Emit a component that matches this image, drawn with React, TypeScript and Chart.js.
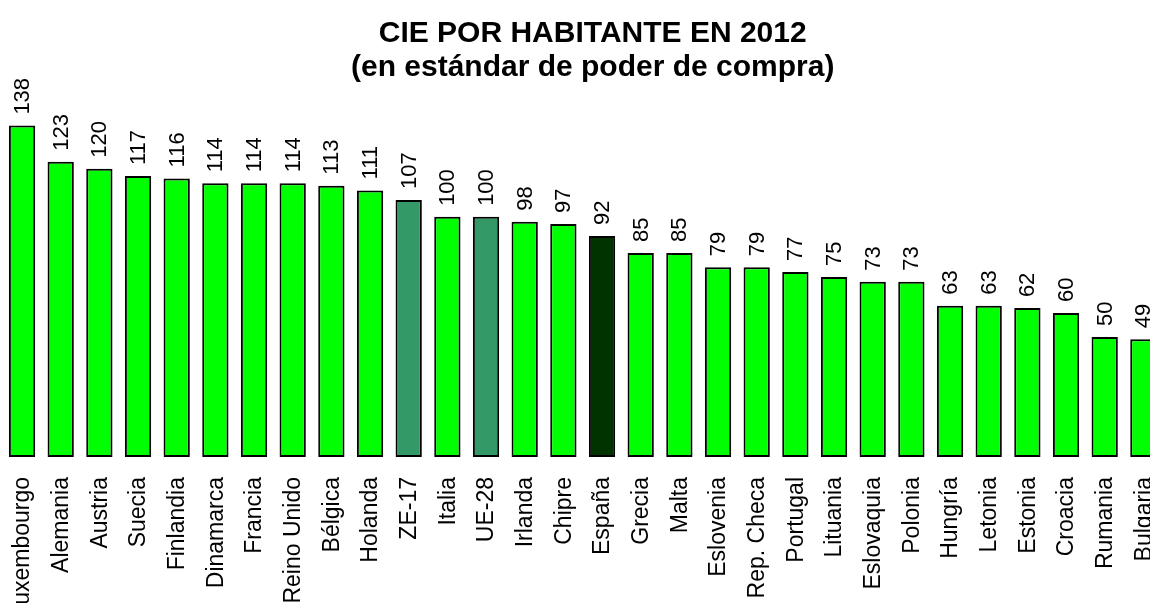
import React, { useEffect, useRef } from "react";
import { Chart, registerables } from "chart.js";

Chart.register(...registerables);

const categories = [
  "Luxembourgo", "Alemania", "Austria", "Suecia", "Finlandia", "Dinamarca", "Francia",
  "Reino Unido", "Bélgica", "Holanda", "ZE-17", "Italia", "UE-28", "Irlanda", "Chipre",
  "España", "Grecia", "Malta", "Eslovenia", "Rep. Checa", "Portugal", "Lituania",
  "Eslovaquia", "Polonia", "Hungría", "Letonia", "Estonia", "Croacia", "Rumania", "Bulgaria",
];

const values = [
  138, 123, 120, 117, 116, 114, 114, 114, 113, 111, 107, 100, 100, 98, 97,
  92, 85, 85, 79, 79, 77, 75, 73, 73, 63, 63, 62, 60, 50, 49,
];

const titleLines = ["CIE POR HABITANTE EN 2012", "(en estándar de poder de compra)"];

const GREEN = "#00FF00";
const AGG = "#339966";
const SPAIN = "#003300";

const barColors = categories.map((c) =>
  c === "España" ? SPAIN : c === "ZE-17" || c === "UE-28" ? AGG : GREEN
);

const FONT = "'Liberation Sans', Arial, Helvetica, sans-serif";

const valueLabels = {
  id: "valueLabels",
  afterDatasetsDraw(chart: any) {
    const ctx = chart.ctx;
    const meta = chart.getDatasetMeta(0);
    ctx.save();
    ctx.font = `22px ${FONT}`;
    ctx.fillStyle = "#000";
    ctx.textAlign = "left";
    ctx.textBaseline = "middle";
    meta.data.forEach((el: any, i: number) => {
      ctx.save();
      ctx.translate(el.x + 1, el.y - 11);
      ctx.rotate(-Math.PI / 2);
      ctx.fillText(String(values[i]), 0, 0);
      ctx.restore();
    });
    ctx.restore();
  },
};

const shiftTitle = {
  id: "shiftTitle",
  afterLayout(chart: any) {
    const t = chart.titleBlock;
    if (t) {
      t.left += 10;
      t.right += 10;
    }
  },
};

export default function App() {
  const ref = useRef<HTMLCanvasElement | null>(null);

  useEffect(() => {
    if (!ref.current) return;
    const chart = new Chart(ref.current, {
      type: "bar",
      data: {
        labels: categories,
        datasets: [
          {
            data: values,
            backgroundColor: barColors,
            borderColor: "#000",
            borderWidth: 2,
            borderSkipped: false,
            categoryPercentage: 1,
            barPercentage: 0.68,
          },
        ],
      },
      options: {
        responsive: false,
        animation: false,
        devicePixelRatio: 1,
        layout: { padding: { left: 2.7, right: 7.3, top: 0, bottom: 0 } },
        plugins: {
          legend: { display: false },
          tooltip: { enabled: false },
          title: {
            display: true,
            text: titleLines,
            color: "#000",
            font: { family: FONT, size: 30, weight: "bold", lineHeight: 1.16 },
            padding: { top: 16, bottom: 4 },
          },
        },
        scales: {
          x: {
            grid: { display: false },
            border: { display: false },
            ticks: {
              autoSkip: false,
              minRotation: 90,
              maxRotation: 90,
              padding: 12,
              labelOffset: 1,
              color: "#000",
              font: { family: FONT, size: 23 },
            },
            afterFit(scale: any) {
              scale.height = 183;
              scale.paddingLeft = 0;
              scale.paddingRight = 0;
            },
          },
          y: {
            display: false,
            min: 0,
            max: 153,
          },
        },
      },
      plugins: [valueLabels, shiftTitle],
    });
    return () => chart.destroy();
  }, []);

  return (
    <div
      style={{
        position: "fixed",
        left: 0,
        top: 0,
        width: 1150,
        height: 603,
        overflow: "hidden",
        background: "#fff",
      }}
    >
      <canvas
        ref={ref}
        width={1170}
        height={640}
        style={{ display: "block", width: 1170, height: 640 }}
      />
    </div>
  );
}
